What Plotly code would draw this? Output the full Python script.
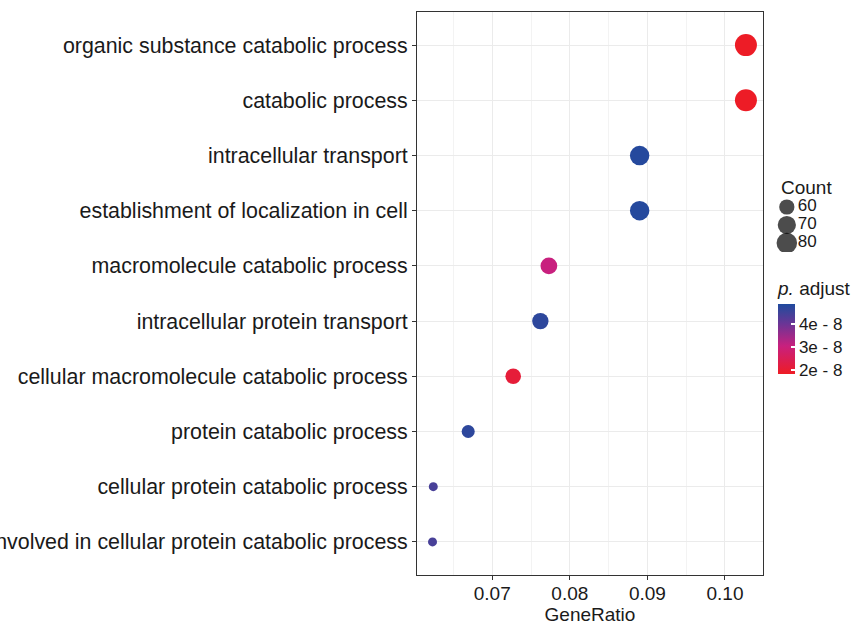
import math
import plotly.graph_objects as go

# ---- data ----
terms = [
    "organic substance catabolic process",
    "catabolic process",
    "intracellular transport",
    "establishment of localization in cell",
    "macromolecule catabolic process",
    "intracellular protein transport",
    "cellular macromolecule catabolic process",
    "protein catabolic process",
    "cellular protein catabolic process",
    "proteolysis involved in cellular protein catabolic process",
]
gene_ratio = [0.1027, 0.1027, 0.0890, 0.0890, 0.0773, 0.0762, 0.0727, 0.0669, 0.0624, 0.0623]
counts = [80, 80, 69, 69, 60, 59, 57, 52, 49, 49]
p_adjust = [1.85e-8, 1.85e-8, 4.8e-8, 4.8e-8, 3.05e-8, 4.7e-8, 2.1e-8, 4.7e-8, 4.4e-8, 4.4e-8]

legend_counts = [60, 70, 80]
cbar_ticks = [2e-8, 3e-8, 4e-8]
cbar_ticktext = ["2e - 8", "3e - 8", "4e - 8"]
x_ticks = [0.07, 0.08, 0.09, 0.10]

# ---- styling helpers ----
FONT = "Liberation Sans, Arial, sans-serif"
TXT = "#1a1a1a"
cmin_c, cmax_c = min(counts), max(counts)
dmin, dmax = 9.0, 22.0


def diam(c):
    f = (c - cmin_c) / (cmax_c - cmin_c)
    f = max(0.0, min(1.0, f))
    return dmin + (dmax - dmin) * math.sqrt(f)


colorscale = [
    [0.0, "#EE1C25"],
    [0.4, "#C8207E"],
    [0.72, "#6A3596"],
    [0.88, "#3E4399"],
    [1.0, "#1F4A9E"],
]
P_MIN, P_MAX = 1.83e-8, 4.87e-8

W, H = 866, 625
ML, MR, MT, MB = 417, 0, 12, 50
PW = W - ML - MR
PH = H - MT - MB


def px_x(p):
    return (p - ML) / PW


def px_y(p):
    return (H - MB - p) / PH


fig = go.Figure()

fig.add_trace(go.Scatter(
    x=gene_ratio, y=terms, mode="markers",
    marker=dict(
        size=[diam(c) for c in counts],
        color=p_adjust, colorscale=colorscale, cmin=P_MIN, cmax=P_MAX,
        line=dict(width=0), opacity=1,
        colorbar=dict(
            title=dict(text="<i>p.</i> adjust", side="top",
                       font=dict(size=19, color=TXT, family=FONT)),
            x=px_x(778), xanchor="left", xpad=0,
            y=px_y(374), yanchor="bottom", ypad=0,
            thickness=17, lenmode="pixels", len=96,
            outlinewidth=0,
            tickvals=cbar_ticks, ticktext=cbar_ticktext,
            ticks="inside", ticklen=4, tickcolor="white", tickwidth=1.5,
            tickfont=dict(size=17, color=TXT, family=FONT),
        ),
    ),
    showlegend=False, hoverinfo="x+y",
))

# size legend built on its own small axes
leg_idx = list(range(len(legend_counts)))
fig.add_trace(go.Scatter(
    x=[0.13] * len(legend_counts), y=leg_idx, mode="markers",
    marker=dict(size=[diam(c) - 1.5 for c in legend_counts], color="black", line=dict(width=0)),
    xaxis="x2", yaxis="y2", showlegend=False, hoverinfo="skip",
))
fig.add_trace(go.Scatter(
    x=[0.25] * len(legend_counts), y=leg_idx, mode="text",
    text=[str(c) for c in legend_counts], textposition="middle right",
    textfont=dict(size=17, color=TXT, family=FONT),
    xaxis="x2", yaxis="y2", showlegend=False, hoverinfo="skip",
))

fig.add_annotation(
    text="Count", xref="paper", yref="paper",
    x=px_x(779), y=px_y(187), xanchor="left", yanchor="middle",
    showarrow=False, font=dict(size=19, color=TXT, family=FONT),
)

fig.update_layout(
    width=W, height=H,
    margin=dict(l=ML, r=MR, t=MT, b=MB, autoexpand=False),
    paper_bgcolor="white", plot_bgcolor="white",
    font=dict(family=FONT, color=TXT, size=20),
    xaxis=dict(
        domain=[0, (763 - ML) / PW],
        range=[0.0603, 0.1049],
        tickvals=x_ticks, tickformat=".2f",
        ticks="outside", ticklen=4, tickcolor="#333", tickwidth=1,
        ticklabelstandoff=-3,
        tickfont=dict(size=19, color=TXT),
        showgrid=True, gridcolor="#EBEBEB", gridwidth=1,
        minor=dict(dtick=0.005, tick0=0.065, showgrid=True, gridcolor="#F3F3F3", gridwidth=0.6, ticks=""),
        showline=True, linecolor="#333", linewidth=1, mirror=True,
        zeroline=False,
        title=dict(text="GeneRatio", font=dict(size=19, color=TXT), standoff=2),
        automargin=False,
    ),
    yaxis=dict(
        type="category", categoryorder="array", categoryarray=terms,
        range=[len(terms) - 0.4, -0.6],
        ticks="outside", ticklen=4, tickcolor="#333", tickwidth=1,
        tickfont=dict(size=21.4, color=TXT),
        showgrid=True, gridcolor="#EBEBEB", gridwidth=1,
        showline=True, linecolor="#333", linewidth=1, mirror=True,
        zeroline=False, automargin=False,
    ),
    xaxis2=dict(domain=[px_x(775), 1.0], range=[0, 1], visible=False, fixedrange=True),
    yaxis2=dict(domain=[px_y(252), px_y(198)], range=[2.5, -0.5], visible=False, fixedrange=True),
)

fig.write_html("out.html")
